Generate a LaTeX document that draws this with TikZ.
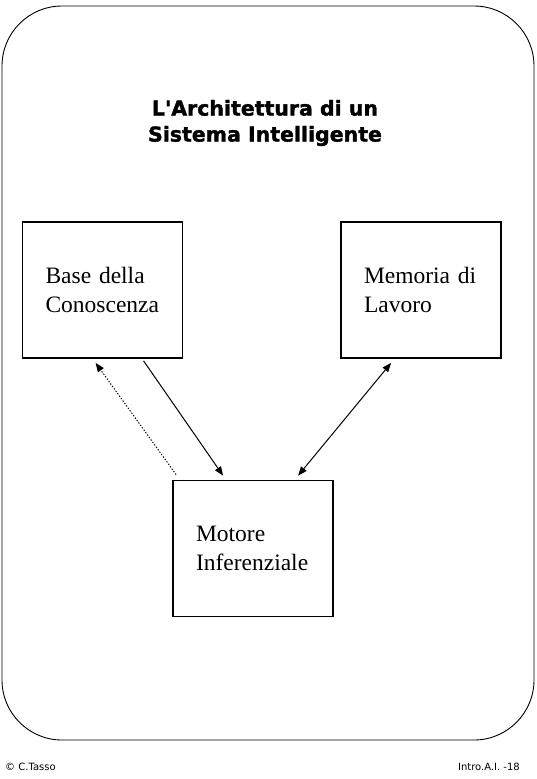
\documentclass[tikz,border=0pt]{standalone}
\usepackage{fontspec}
\setmainfont{Liberation Serif}
\newfontfamily\titlefont{DejaVu Sans}
\newfontfamily\titlebold{DejaVu Sans Bold}[FakeBold=1.6]
\usetikzlibrary{arrows.meta}
\begin{document}
\begin{tikzpicture}[x=1pt, y=-1pt, >={Triangle[length=9pt,width=7pt]},
    blocco/.style={draw, line width=1.8pt, rectangle, minimum height=136pt,
      inner xsep=23pt, text width=114pt, align=left, font=\fontsize{23.5}{29}\selectfont},
    freccia/.style={line width=1pt},
    piede/.style={font=\titlefont\fontsize{10}{12}\selectfont, inner sep=0pt}]
  \useasboundingbox (0,0) rectangle (536,779);

  % cornice
  \draw[line width=0.9pt, rounded corners=60pt] (2,6) rectangle (534,740);

  % titolo
  \node[align=center, font=\titlebold\fontsize{20.5}{26}\selectfont] (titolo) at (265,123)
    {L'Architettura di un\\Sistema Intelligente};

  % blocchi
  \node[blocco] (base) at (102.5,290) {Base della\\Conoscenza};
  \node[blocco] (memoria) at (421,290) {Memoria di\\Lavoro};
  \node[blocco] (motore) at (253,548.5) {Motore\\Inferenziale};

  % estremi delle frecce
  \coordinate (d1) at ([xshift=4pt, yshift=5pt]motore.north west);
  \coordinate (d2) at ([xshift=74pt, yshift=-4pt]base.south west);
  \coordinate (s1) at ([xshift=122pt, yshift=-2pt]base.south west);
  \coordinate (s2) at ([xshift=51pt, yshift=4pt]motore.north west);
  \coordinate (b1) at ([xshift=126pt, yshift=4pt]motore.north west);
  \coordinate (b2) at ([xshift=51pt, yshift=-4pt]memoria.south west);

  % frecce
  \draw[freccia, ->, dash pattern=on 1.3pt off 1.7pt] (d1) -- (d2);
  \draw[freccia, ->] (s1) -- (s2);
  \draw[freccia, <->] (b1) -- (b2);

  % piede di pagina
  \node[piede, anchor=west] (autore) at (5,767) {© C.Tasso};
  \node[piede, anchor=east] (pagina) at (520,767) {Intro.A.I. -18};
\end{tikzpicture}
\end{document}
